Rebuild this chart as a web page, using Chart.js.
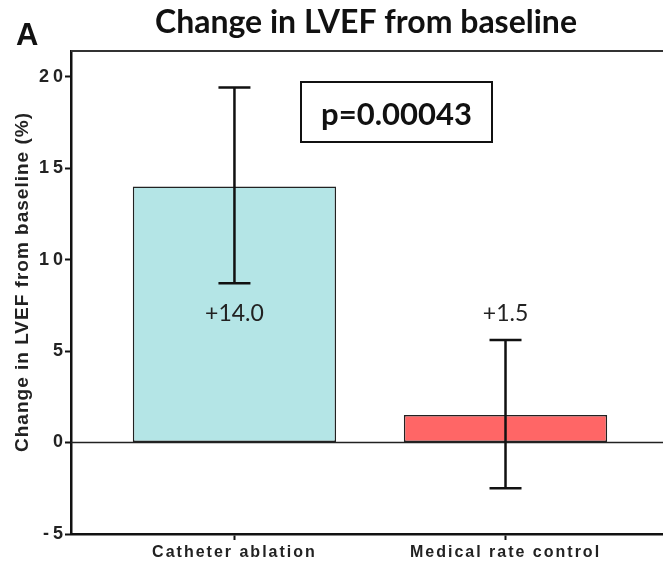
<!DOCTYPE html>
<html>
<head>
<meta charset="utf-8">
<script src="https://cdn.jsdelivr.net/npm/chart.js@4.4.1/dist/chart.umd.min.js"></script>
<style>
  html, body { margin: 0; padding: 0; background: #fff; }
  #wrap { width: 663px; height: 563px; position: relative; }
</style>
</head>
<body>
<div id="wrap"><canvas id="lvef-chart"></canvas></div>
<script>
const categories = ['Catheter ablation', 'Medical rate control'];
const meanChange = [14.0, 1.5];
const errLow = [8.7, -2.5];
const errHigh = [19.4, 5.6];
const yTicks = [-5, 0, 5, 10, 15, 20];
const chartTitle = 'Change in LVEF from baseline';
const yTitle = 'Change in LVEF from baseline (%)';
const panelLetter = 'A';
const pText = 'p=0.00043';

// extra drawing: zero line, top border, error bars, labels, p box
const decorations = {
    id: 'decorations',
    beforeDraw(chart) {
        chart.ctx.letterSpacing = '4px';   // y tick labels are spaced out
    },
    beforeDatasetsDraw(chart) {
        const { ctx, chartArea, scales: { y } } = chart;
        ctx.save();
        ctx.letterSpacing = '0px';
        const y0 = y.getPixelForValue(0);
        ctx.strokeStyle = '#222';
        ctx.lineWidth = 1.5;
        ctx.beginPath();
        ctx.moveTo(chartArea.left, y0);
        ctx.lineTo(chartArea.right, y0);
        ctx.stroke();
        ctx.strokeStyle = '#333';
        ctx.lineWidth = 2;
        ctx.beginPath();
        ctx.moveTo(chartArea.left, chartArea.top);
        ctx.lineTo(chartArea.right, chartArea.top);
        ctx.stroke();
        ctx.restore();
    },
    afterDatasetsDraw(chart) {
        const { ctx, scales: { x, y } } = chart;
        ctx.save();
        ctx.letterSpacing = '0px';
        ctx.strokeStyle = '#111';
        ctx.lineWidth = 2.5;
        categories.forEach((c, i) => {
            const px = x.getPixelForValue(i + 1);
            const lo = y.getPixelForValue(errLow[i]);
            const hi = y.getPixelForValue(errHigh[i]);
            ctx.beginPath();
            ctx.moveTo(px, lo); ctx.lineTo(px, hi);
            ctx.moveTo(px - 16, lo); ctx.lineTo(px + 16, lo);
            ctx.moveTo(px - 16, hi); ctx.lineTo(px + 16, hi);
            ctx.stroke();

            ctx.fillStyle = '#222';
            ctx.font = '23px Lato';
            ctx.textAlign = 'center';
            ctx.textBaseline = 'alphabetic';
            ctx.fillText('+' + meanChange[i].toFixed(1), px, y.getPixelForValue(6.65));
        });
        ctx.restore();
        ctx.letterSpacing = '2px';   // x category labels drawn next
    },
    afterDraw(chart) {
        const { ctx } = chart;
        ctx.save();
        ctx.letterSpacing = '0px';
        ctx.fillStyle = '#111';
        ctx.textBaseline = 'alphabetic';

        ctx.font = 'bold 31px "Liberation Sans"';
        ctx.textAlign = 'left';
        ctx.fillText(panelLetter, 16, 45);

        ctx.font = 'bold 32px Lato';
        ctx.textAlign = 'center';
        ctx.fillText(chartTitle, 366, 33);

        ctx.strokeStyle = '#111';
        ctx.lineWidth = 2;
        ctx.strokeRect(301, 82, 191, 60);
        ctx.font = 'bold 31px Lato';
        ctx.fillText(pText, 396.5, 125);

        ctx.translate(22.5, 282);
        ctx.rotate(-Math.PI / 2);
        ctx.letterSpacing = '1px';
        ctx.fillStyle = '#222';
        ctx.font = 'bold 19px "Liberation Sans"';
        ctx.textBaseline = 'middle';
        ctx.fillText(yTitle, 0, 0);
        ctx.restore();
    }
};

document.addEventListener('DOMContentLoaded', () => {
    const canvas = document.getElementById('lvef-chart');
    new Chart(canvas, {
        type: 'bar',
        data: {
            datasets: [{
                data: categories.map((c, i) => ({ x: i + 1, y: meanChange[i] })),
                backgroundColor: ['#b4e5e6', '#ff6666'],
                borderColor: '#222',
                borderWidth: 1.5,
                borderSkipped: false,
                barPercentage: 0.75,
                categoryPercentage: 1.0
            }]
        },
        options: {
            responsive: true,
            maintainAspectRatio: false,
            animation: false,
            layout: { padding: { top: 51, left: 0, right: 0, bottom: 0 } },
            plugins: {
                legend: { display: false },
                title: { display: false },
                tooltip: { enabled: false }
            },
            scales: {
                x: {
                    type: 'linear',
                    position: 'bottom',
                    offset: false,
                    min: 0.397,
                    max: 2.581,
                    afterBuildTicks: (s) => { s.ticks = categories.map((c, i) => ({ value: i + 1 })); },
                    afterFit: (s) => { s.height = 29; },
                    grid: { offset: false, drawOnChartArea: false, drawTicks: true, tickLength: 6, tickWidth: 2, tickColor: '#111' },
                    border: { display: true, width: 2.5, color: '#111' },
                    ticks: {
                        z: 1,
                        autoSkip: false,
                        maxRotation: 0,
                        padding: 3,
                        color: '#222',
                        font: { family: 'Liberation Sans', size: 16, weight: 'bold' },
                        callback: (v) => categories[Math.round(v) - 1]
                    }
                },
                y: {
                    type: 'linear',
                    min: -5,
                    max: 21.4,
                    afterBuildTicks: (s) => { s.ticks = yTicks.map(v => ({ value: v })); },
                    afterFit: (s) => { s.width = 71; },
                    grid: { drawOnChartArea: false, drawTicks: true, tickLength: 6, tickWidth: 2, tickColor: '#111' },
                    border: { display: true, width: 2.5, color: '#111' },
                    ticks: {
                        padding: -2,
                        color: '#222',
                        font: { family: 'Liberation Sans', size: 18, weight: 'bold' },
                        callback: (v) => String(v)
                    }
                }
            }
        },
        plugins: [decorations]
    });
});
</script>
</body>
</html>
